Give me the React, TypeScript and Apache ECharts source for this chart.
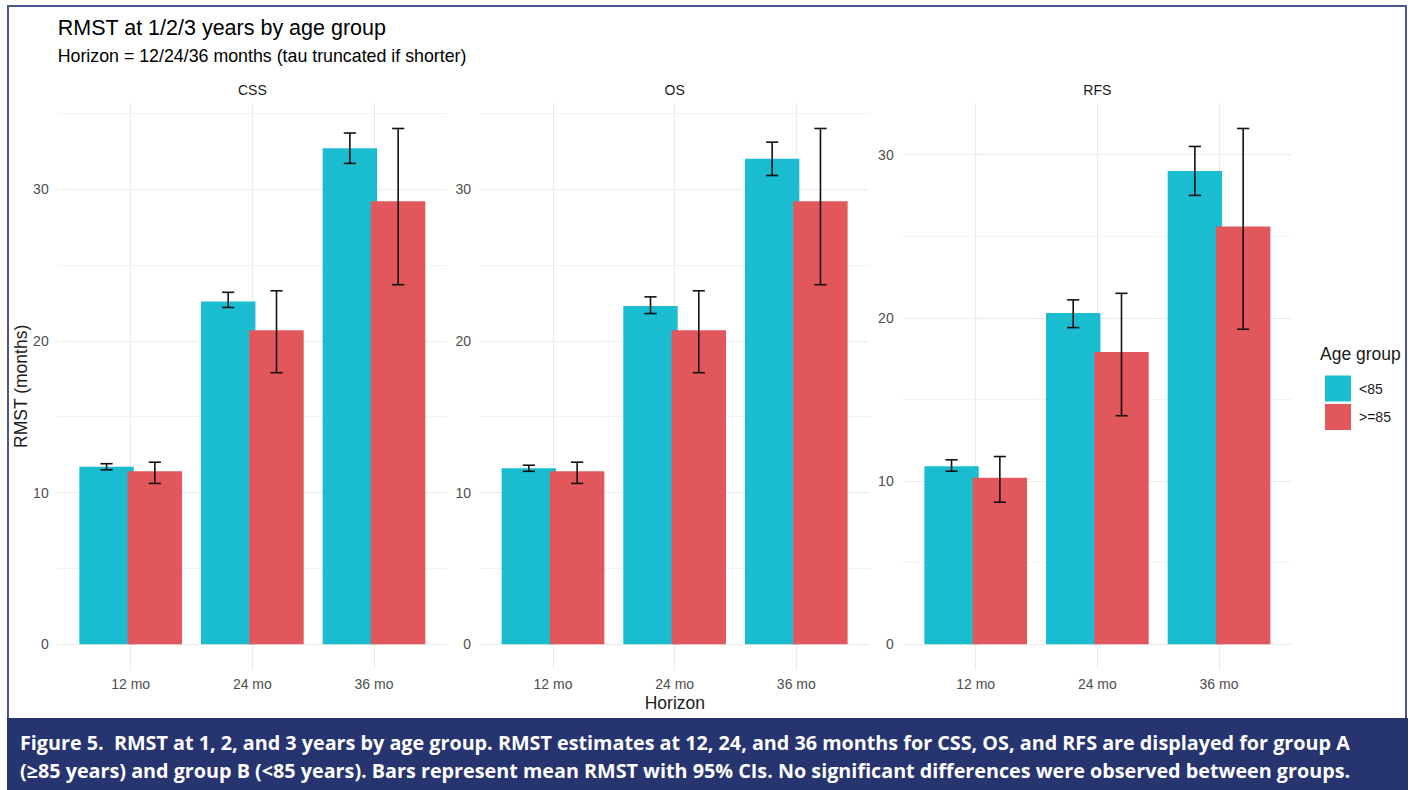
import React, { useEffect, useRef } from 'react';
import * as echarts from 'echarts';

// Horizons on the x axis (drawn at positions 1, 2, 3)
const horizonLabels = ['12 mo', '24 mo', '36 mo'];
const horizonPos = [1, 2, 3];

const endpoints = ['CSS', 'OS', 'RFS'];
const groupNames = ['<85', '>=85'];
const groupColors = ['#19BDCF', '#E1575B'];

// RMST in months, horizon order 12 / 24 / 36
const cssUnder85 = [11.7, 22.6, 32.7];
const cssUnder85Lo = [11.5, 22.2, 31.7];
const cssUnder85Hi = [11.9, 23.2, 33.7];
const cssOver85 = [11.4, 20.7, 29.2];
const cssOver85Lo = [10.6, 17.9, 23.7];
const cssOver85Hi = [12.0, 23.3, 34.0];

const osUnder85 = [11.6, 22.3, 32.0];
const osUnder85Lo = [11.4, 21.8, 30.9];
const osUnder85Hi = [11.8, 22.9, 33.1];
const osOver85 = [11.4, 20.7, 29.2];
const osOver85Lo = [10.6, 17.9, 23.7];
const osOver85Hi = [12.0, 23.3, 34.0];

const rfsUnder85 = [10.9, 20.3, 29.0];
const rfsUnder85Lo = [10.6, 19.4, 27.5];
const rfsUnder85Hi = [11.3, 21.1, 30.5];
const rfsOver85 = [10.2, 17.9, 25.6];
const rfsOver85Lo = [8.7, 14.0, 19.3];
const rfsOver85Hi = [11.5, 21.5, 31.6];

const yMajorTicks = [0, 10, 20, 30];
const yMinorTicks = [5, 15, 25, 35];

const titleText = 'RMST at 1/2/3 years by age group';
const subtitleText = 'Horizon = 12/24/36 months (tau truncated if shorter)';
const xTitle = 'Horizon';
const yTitle = 'RMST (months)';
const legendTitle = 'Age group';
const captionLines = [
  'Figure 5.  RMST at 1, 2, and 3 years by age group. RMST estimates at 12, 24, and 36 months for CSS, OS, and RFS are displayed for group A',
  '(\u226585 years) and group B (<85 years). Bars represent mean RMST with 95% CIs. No significant differences were observed between groups.',
];

type Group = { mean: number[]; lo: number[]; hi: number[] };
const panels: { name: string; groups: Group[] }[] = [
  {
    name: endpoints[0],
    groups: [
      { mean: cssUnder85, lo: cssUnder85Lo, hi: cssUnder85Hi },
      { mean: cssOver85, lo: cssOver85Lo, hi: cssOver85Hi },
    ],
  },
  {
    name: endpoints[1],
    groups: [
      { mean: osUnder85, lo: osUnder85Lo, hi: osUnder85Hi },
      { mean: osOver85, lo: osOver85Lo, hi: osOver85Hi },
    ],
  },
  {
    name: endpoints[2],
    groups: [
      { mean: rfsUnder85, lo: rfsUnder85Lo, hi: rfsUnder85Hi },
      { mean: rfsOver85, lo: rfsOver85Lo, hi: rfsOver85Hi },
    ],
  },
];

// Layout (px)
const W = 1412;
const H = 790;
const PANEL_LEFT = [57.7, 480, 902.7];
const PANEL_W = 389.3;
const PANEL_TOP = 102.7;
const PANEL_BOTTOM = 670;

// Bar geometry in category units
const BAR_W = 0.447;
const DODGE = 0.397; // distance between the two bar centres
const CAP = 0.1;

const FONT = '"Liberation Sans", Arial, Helvetica, sans-serif';
const GRID_COLOR = '#EBEBEB';
const AXIS_TEXT = '#4D4D4D';
const DARK_TEXT = '#1A1A1A';

function measureWidth(text: string, font: string): number {
  const ctx = document.createElement('canvas').getContext('2d');
  if (!ctx) return 0;
  ctx.font = font;
  return ctx.measureText(text).width;
}

function buildOption() {
  const grids: any[] = [];
  const xAxes: any[] = [];
  const yAxes: any[] = [];
  const series: any[] = [];
  const graphics: any[] = [];

  panels.forEach((panel, p) => {
    const top = Math.max(...panel.groups.flatMap((g) => g.hi));
    const yMin = -0.05 * top;
    const yMax = 1.05 * top;

    grids.push({
      left: PANEL_LEFT[p],
      width: PANEL_W,
      top: PANEL_TOP,
      bottom: H - PANEL_BOTTOM,
      outerBoundsMode: 'none',
      containLabel: false,
    });

    xAxes.push({
      type: 'value',
      gridIndex: p,
      min: 0.4,
      max: 3.6,
      axisLine: { show: false },
      axisTick: { show: false, customValues: horizonPos },
      axisLabel: {
        customValues: horizonPos,
        formatter: (v: number) => horizonLabels[horizonPos.indexOf(v)] ?? '',
        color: AXIS_TEXT,
        fontSize: 14,
        fontFamily: FONT,
        margin: 7,
      },
      splitLine: { show: true, lineStyle: { color: GRID_COLOR, width: 1.1 } },
      minorSplitLine: { show: false },
    });

    // major gridlines + tick labels
    yAxes.push({
      type: 'value',
      gridIndex: p,
      min: yMin,
      max: yMax,
      axisLine: { show: false },
      axisTick: { show: false, customValues: yMajorTicks },
      axisLabel: {
        customValues: yMajorTicks,
        color: AXIS_TEXT,
        fontSize: 14,
        fontFamily: FONT,
        margin: 9,
      },
      splitLine: { show: true, lineStyle: { color: GRID_COLOR, width: 1.1 } },
    });
    // minor gridlines
    yAxes.push({
      type: 'value',
      gridIndex: p,
      min: yMin,
      max: yMax,
      position: 'left',
      axisLine: { show: false },
      axisTick: { show: false, customValues: yMinorTicks.filter((t) => t <= yMax) },
      axisLabel: { show: false },
      splitLine: { show: true, lineStyle: { color: GRID_COLOR, width: 0.6 } },
    });

    panel.groups.forEach((g, gi) => {
      series.push({
        type: 'bar',
        name: groupNames[gi],
        xAxisIndex: p,
        yAxisIndex: 2 * p,
        barWidth: `${BAR_W * 100}%`,
        barGap: `${((DODGE - BAR_W) / BAR_W) * 100}%`,
        itemStyle: { color: groupColors[gi] },
        data: horizonPos.map((x, i) => [x, g.mean[i]]),
        z: 2,
      });
    });

    panel.groups.forEach((g, gi) => {
      const side = gi === 0 ? -1 : 1;
      series.push({
        type: 'custom',
        name: `${groupNames[gi]} 95% CI`,
        xAxisIndex: p,
        yAxisIndex: 2 * p,
        silent: true,
        clip: false,
        z: 5,
        encode: { x: 0, y: [1, 2] },
        data: horizonPos.map((x, i) => [x, g.lo[i], g.hi[i]]),
        renderItem: (_params: any, api: any) => {
          const x = api.value(0);
          const hiPt = api.coord([x, api.value(2)]);
          const loPt = api.coord([x, api.value(1)]);
          const band = api.size([1, 0])[0];
          const cx = hiPt[0] + (side * DODGE * band) / 2;
          const half = (CAP * band) / 2;
          const style = { stroke: '#111111', lineWidth: 1.6, fill: 'none' };
          return {
            type: 'group',
            children: [
              { type: 'line', shape: { x1: cx, y1: hiPt[1], x2: cx, y2: loPt[1] }, style },
              { type: 'line', shape: { x1: cx - half, y1: hiPt[1], x2: cx + half, y2: hiPt[1] }, style },
              { type: 'line', shape: { x1: cx - half, y1: loPt[1], x2: cx + half, y2: loPt[1] }, style },
            ],
          };
        },
      });
    });

    // facet strip label
    graphics.push({
      type: 'text',
      x: PANEL_LEFT[p] + PANEL_W / 2,
      y: 89.5,
      style: {
        text: panel.name,
        fontSize: 14,
        fontFamily: FONT,
        fill: DARK_TEXT,
        align: 'center',
        verticalAlign: 'middle',
      },
    });
  });

  // caption text, fitted to the caption band width
  const capFont = 'bold 19px "Open Sans"';
  const natural = measureWidth(captionLines[0], capFont);
  const capScale = natural > 0 ? 1330 / natural : 1;

  graphics.push(
    {
      type: 'rect',
      shape: { x: 8, y: 6, width: 1398, height: 800 },
      style: { fill: 'none', stroke: '#4E5597', lineWidth: 2 },
      z: 10,
    },
    {
      type: 'rect',
      shape: { x: 7, y: 718, width: 1401, height: 80 },
      style: { fill: '#263470' },
      z: 11,
    },
    {
      type: 'text',
      x: 57.7,
      y: 27.5,
      style: { text: titleText, fontSize: 21.5, fontFamily: FONT, fill: '#000', align: 'left', verticalAlign: 'middle' },
    },
    {
      type: 'text',
      x: 57.7,
      y: 56,
      style: { text: subtitleText, fontSize: 17.8, fontFamily: FONT, fill: '#000', align: 'left', verticalAlign: 'middle' },
    },
    {
      type: 'text',
      x: (PANEL_LEFT[0] + PANEL_LEFT[2] + PANEL_W) / 2,
      y: 703,
      style: { text: xTitle, fontSize: 17.5, fontFamily: FONT, fill: DARK_TEXT, align: 'center', verticalAlign: 'middle' },
    },
    {
      type: 'text',
      x: 20.5,
      y: (PANEL_TOP + PANEL_BOTTOM) / 2,
      rotation: Math.PI / 2,
      style: { text: yTitle, fontSize: 17.5, fontFamily: FONT, fill: DARK_TEXT, align: 'center', verticalAlign: 'middle' },
    },
    {
      type: 'text',
      x: 1320,
      y: 353.5,
      style: { text: legendTitle, fontSize: 17.5, fontFamily: FONT, fill: DARK_TEXT, align: 'left', verticalAlign: 'middle' },
    },
    ...captionLines.map((line, i) => ({
      type: 'text',
      x: 20,
      y: 743 + i * 28,
      scaleX: capScale,
      z: 12,
      style: {
        text: line,
        font: capFont,
        fill: '#FFFFFF',
        align: 'left',
        verticalAlign: 'middle',
      },
    }))
  );

  return {
    animation: false,
    backgroundColor: '#FFFFFF',
    textStyle: { fontFamily: FONT },
    grid: grids,
    xAxis: xAxes,
    yAxis: yAxes,
    legend: {
      data: groupNames,
      orient: 'vertical',
      left: 1320,
      top: 370.5,
      itemWidth: 26,
      itemHeight: 26,
      itemGap: 2.5,
      icon: 'rect',
      selectedMode: false,
      textStyle: { fontSize: 14, color: DARK_TEXT, fontFamily: FONT, padding: [0, 0, 0, 3] },
    },
    series,
    graphic: graphics,
  };
}

export default function App() {
  const ref = useRef<HTMLDivElement>(null);
  useEffect(() => {
    if (!ref.current) return;
    const chart = echarts.init(ref.current, undefined, { renderer: 'svg' });
    chart.setOption(buildOption() as any);
    return () => chart.dispose();
  }, []);
  return (
    <div
      ref={ref}
      style={{ position: 'fixed', left: 0, top: 0, width: W, height: H, background: '#fff' }}
    />
  );
}
